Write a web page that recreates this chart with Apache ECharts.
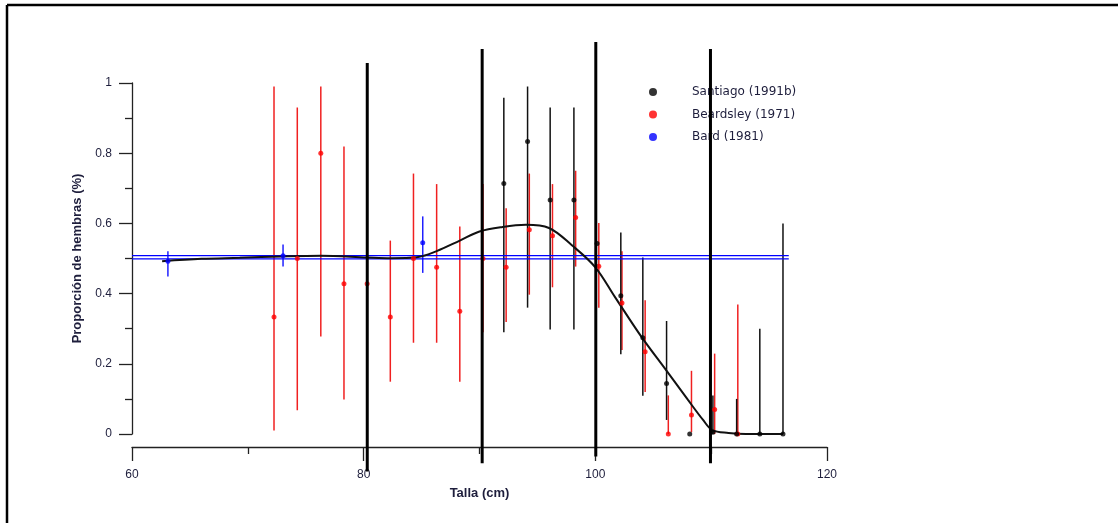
<!DOCTYPE html>
<html>
<head>
<meta charset="utf-8">
<script src="https://cdn.jsdelivr.net/npm/echarts@6/dist/echarts.min.js"></script>
<style>
html,body{margin:0;padding:0;background:#fff;}
#c{width:1118px;height:523px;}
</style>
</head>
<body>
<div id="c"></div>
<script>
// Santiago (1991b): [talla, proporción, low, high]
var santiagoX = [92.1, 94.15, 96.1, 98.15, 100.15, 102.2, 104.1, 106.15, 108.15, 110.15, 112.2, 114.2, 116.2];
var santiagoY = [0.714, 0.833, 0.667, 0.667, 0.543, 0.394, 0.274, 0.144, 0.0, 0.005, 0.0, 0.0, 0.0];
var santiagoLo = [0.29, 0.36, 0.298, 0.298, null, 0.227, 0.109, 0.04, null, 0.0, 0.0, 0.0, 0.0];
var santiagoHi = [0.958, 0.99, 0.93, 0.93, null, 0.574, 0.503, 0.322, null, 0.11, 0.10, 0.30, 0.60];

// Beardsley (1971)
var beardsleyX = [72.26, 74.27, 76.3, 78.3, 80.3, 82.3, 84.3, 86.3, 88.3, 90.3, 92.3, 94.3, 96.3, 98.3, 100.3, 102.3, 104.3, 106.3, 108.3, 110.3, 112.3];
var beardsleyY = [0.333, 0.5, 0.8, 0.428, 0.428, 0.333, 0.5, 0.475, 0.35, 0.5, 0.475, 0.582, 0.565, 0.617, 0.478, 0.373, 0.234, 0.0, 0.054, 0.07, 0.0];
var beardsleyLo = [0.01, 0.068, 0.278, 0.098, null, 0.149, 0.26, 0.26, 0.149, 0.29, 0.319, 0.397, 0.418, 0.477, 0.36, 0.239, 0.12, 0.0, 0.005, 0.0, 0.0];
var beardsleyHi = [0.99, 0.93, 0.99, 0.819, null, 0.551, 0.742, 0.712, 0.591, 0.712, 0.643, 0.742, 0.712, 0.75, 0.601, 0.521, 0.381, 0.11, 0.18, 0.229, 0.369];

// Bard (1981)
var bardX = [63.1, 73.04, 85.1];
var bardY = [0.492, 0.508, 0.545];
var bardLo = [0.449, 0.477, 0.459];
var bardHi = [0.521, 0.54, 0.62];

// Bard reference lines (double horizontal line)
var bardLineX = [60, 116.7];
var bardLineYa = 0.508;
var bardLineYb = 0.499;

// Fitted curve
var curveX = [62.6, 66, 69.3, 73, 76.3, 80.3, 82.3, 84, 85, 86.3, 88.3, 90, 92, 94, 96, 98, 100, 101.7, 104, 106, 108, 109.3, 110.1, 111.5, 113, 116.2];
var curveY = [0.492, 0.499, 0.502, 0.506, 0.508, 0.503, 0.501, 0.502, 0.506, 0.521, 0.551, 0.577, 0.59, 0.596, 0.587, 0.537, 0.475, 0.39, 0.276, 0.187, 0.097, 0.04, 0.011, 0.003, 0.0, 0.0];

// Thick vertical divider lines: x, bottom, top
var dividerX = [80.31, 90.23, 100.04, 109.94];
var dividerBottom = [-0.107, -0.083, -0.064, -0.083];
var dividerTop = [1.057, 1.097, 1.117, 1.097];

// Axis ticks
var xTicks = [60, 80, 100, 120];
var yTicks = [0, 0.2, 0.4, 0.6, 0.8, 1];

var names = ['Santiago (1991b)', 'Beardsley (1971)', 'Bard (1981)'];
var colors = ['#000000', '#ff0000', '#0000ff'];
var barColors = ['#111111', '#f02020', '#2020ff'];

function pts(xs, ys) { return xs.map(function (x, i) { return [x, ys[i]]; }); }
function bars(xs, lo, hi) {
  var out = [];
  xs.forEach(function (x, i) { if (lo[i] !== null && hi[i] !== null) out.push([x, lo[i], hi[i]]); });
  return out;
}
function errSeries(id, data, color) {
  return {
    type: 'custom', name: id, data: data, clip: false, z: 2,
    renderItem: function (params, api) {
      var a = api.coord([api.value(0), api.value(1)]);
      var b = api.coord([api.value(0), api.value(2)]);
      return { type: 'line', shape: { x1: a[0], y1: a[1], x2: b[0], y2: b[1] },
        style: { stroke: color, lineWidth: 1.5 } };
    },
    encode: { x: 0, y: [1, 2] }
  };
}

var labelFont = '"Liberation Sans", Arial, sans-serif';
var textColor = '#1e1e3c';

var series = [];
series.push(errSeries('errB', bars(beardsleyX, beardsleyLo, beardsleyHi), barColors[1]));
series.push(errSeries('errS', bars(santiagoX, santiagoLo, santiagoHi), barColors[0]));
series.push(errSeries('errBd', bars(bardX, bardLo, bardHi), barColors[2]));
series.push({ type: 'line', name: 'bardA', data: [[bardLineX[0], bardLineYa], [bardLineX[1], bardLineYa]], symbol: 'none', lineStyle: { color: '#0000ff', width: 1.3 }, z: 3, silent: true });
series.push({ type: 'line', name: 'bardB', data: [[bardLineX[0], bardLineYb], [bardLineX[1], bardLineYb]], symbol: 'none', lineStyle: { color: '#0000ff', width: 1.3 }, z: 3, silent: true });
series.push({ type: 'line', name: 'curve', data: pts(curveX, curveY), smooth: 0.35, symbol: 'none', lineStyle: { color: '#111', width: 2 }, z: 4, silent: true });
dividerX.forEach(function (x, i) {
  series.push({ type: 'line', name: 'div' + i, data: [[x, dividerBottom[i]], [x, dividerTop[i]]], symbol: 'none', clip: false, lineStyle: { color: '#000', width: 3 }, z: 6, silent: true });
});
series.push({ type: 'scatter', name: names[1], data: pts(beardsleyX, beardsleyY), symbolSize: 5, itemStyle: { color: colors[1] }, z: 5 });
series.push({ type: 'scatter', name: names[0], data: pts(santiagoX, santiagoY), symbolSize: 5, itemStyle: { color: colors[0] }, z: 5 });
series.push({ type: 'scatter', name: names[2], data: pts(bardX, bardY), symbolSize: 5, itemStyle: { color: colors[2] }, z: 5 });

var chart = echarts.init(document.getElementById('c'), null, { renderer: 'canvas' });
chart.setOption({
  animation: false,
  backgroundColor: '#ffffff',
  graphic: [
    { type: 'line', shape: { x1: 7, y1: 5, x2: 1118, y2: 5 }, style: { stroke: '#000', lineWidth: 2.5 } },
    { type: 'line', shape: { x1: 7, y1: 5, x2: 7, y2: 523 }, style: { stroke: '#000', lineWidth: 2.5 } }
  ],
  legend: {
    data: names.map(function (n) { return { name: n, icon: 'circle' }; }),
    orient: 'vertical', left: 644, top: 80,
    itemWidth: 8, itemHeight: 8, itemGap: 8.5,
    selectedMode: false,
    textStyle: { fontFamily: '"DejaVu Sans",sans-serif', fontSize: 12, color: textColor, lineHeight: 14, padding: [0, 0, 0, 30] }
  },
  grid: { left: 132, right: 291, top: 83, bottom: 89, containLabel: false },
  xAxis: {
    type: 'value', min: xTicks[0], max: xTicks[xTicks.length - 1], interval: 20,
    offset: 13,
    axisLine: { show: true, onZero: false, lineStyle: { color: '#222', width: 1.3 } },
    axisTick: { show: true, length: 14, lineStyle: { color: '#222', width: 1.3 } },
    minorTick: { show: true, splitNumber: 2, length: 7, lineStyle: { color: '#222', width: 1.3 } },
    splitLine: { show: false },
    axisLabel: { margin: 22, fontFamily: labelFont, fontSize: 12, color: textColor },
    name: 'Talla (cm)', nameLocation: 'middle', nameGap: 40,
    nameTextStyle: { fontFamily: labelFont, fontSize: 13, color: textColor, fontWeight: 'bold' }
  },
  yAxis: {
    type: 'value', min: yTicks[0], max: yTicks[yTicks.length - 1], interval: 0.2,
    axisLine: { show: true, onZero: false, lineStyle: { color: '#222', width: 1.3 } },
    axisTick: { show: true, length: 13, lineStyle: { color: '#222', width: 1.3 } },
    minorTick: { show: true, splitNumber: 2, length: 7, lineStyle: { color: '#222', width: 1.3 } },
    splitLine: { show: false },
    axisLabel: { margin: 20, fontFamily: labelFont, fontSize: 12, color: textColor,
      formatter: function (v) { return String(Math.round(v * 10) / 10); } },
    name: 'Proporción de hembras (%)', nameLocation: 'middle', nameGap: 47,
    nameTextStyle: { fontFamily: labelFont, fontSize: 13, color: textColor, fontWeight: 'bold' }
  },
  series: series
});
</script>
</body>
</html>
